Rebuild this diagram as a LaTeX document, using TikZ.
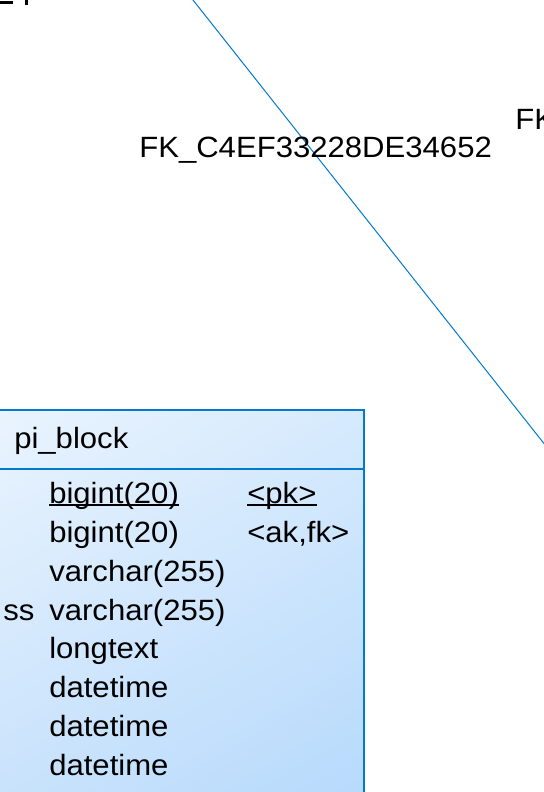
\documentclass[tikz,border=0pt]{standalone}
\usepackage{fontspec}
\setmainfont{Liberation Sans}
\newfontfamily\erfont[FakeStretch=1.06]{Liberation Sans}
\usetikzlibrary{calc,shadings}
\definecolor{erblue}{RGB}{0,122,204}
\definecolor{fillUL}{RGB}{234,244,254}
\definecolor{fillUR}{RGB}{214,234,253}
\definecolor{fillLL}{RGB}{200,226,252}
\definecolor{fillLR}{RGB}{182,217,252}
\tikzset{txt/.style={anchor=base west, inner sep=0pt, font=\erfont\fontsize{22}{22}\selectfont},
  rel/.style={draw=erblue, line width=0.75pt},
  pkline/.style={line width=1.1pt}}
\begin{document}
\begin{tikzpicture}[x=0.75pt, y=-0.75pt]
  \useasboundingbox (0,0) rectangle (543,792);
  % table body, cut off at left and bottom
  \shade[upper left=fillUL, upper right=fillUR, lower left=fillLL, lower right=fillLR]
    (-10,410) rectangle (364,810);
  \draw[erblue, line width=1.1pt] (-10,410) rectangle (364,810);
  \draw[erblue, line width=0.9pt] (-10,469) -- (364,469);
  \node[txt] (tname) at (14,448) {pi\_block};
  % column types
  \node[txt] (t1) at (49,503) {bigint(20)};
  \node[txt] (t2) at (49,542) {bigint(20)};
  \node[txt] (t3) at (49,581) {varchar(255)};
  \node[txt] (t4) at (49,620) {varchar(255)};
  \node[txt] (t5) at (49,658) {longtext};
  \node[txt] (t6) at (49,697) {datetime};
  \node[txt] (t7) at (49,736) {datetime};
  \node[txt] (t8) at (49,775) {datetime};
  \node[txt] (c4) at (3,620) {ss};
  % keys
  \node[txt] (k1) at (247,503) {<pk>};
  \node[txt] (k2) at (247,542) {<ak,fk>};
  \draw[pkline] ($(t1.base west)+(0,2)$) -- ($(t1.base east)+(0,2)$);
  \draw[pkline] ($(k1.base west)+(0,2)$) -- ($(k1.base east)+(0,2)$);
  % reference line and labels
  \coordinate (relA) at (185,-10.1);
  \coordinate (relB) at (551,452.4);
  \draw[rel] (relA) -- (relB);
  \node[txt] (fk1) at (139,157) {FK\_C4EF33228DE34652};
  \node[txt] (fk2) at (515,129) {FK};
  % cut-off text at top-left
  \fill (0,1) rectangle (13,4);
  \fill (25,0) rectangle (28,5);
\end{tikzpicture}
\end{document}
